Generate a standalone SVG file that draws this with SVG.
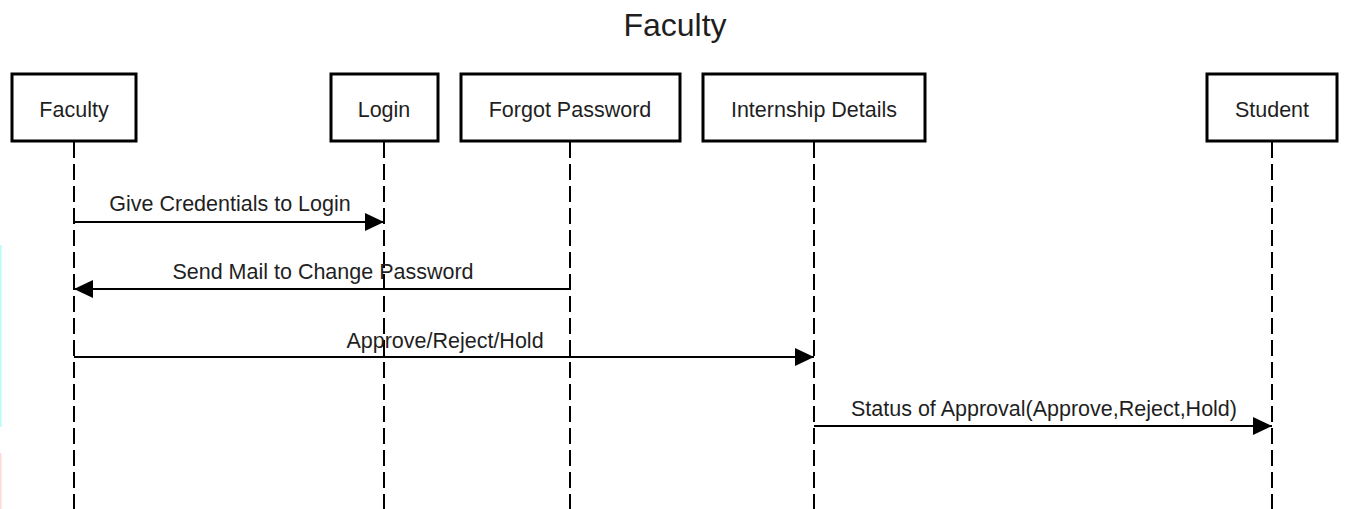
<svg xmlns="http://www.w3.org/2000/svg" width="1349" height="509" viewBox="0 0 1349 509">
<defs>
<style>
text{font-family:"Liberation Sans",Arial,sans-serif;fill:#1f1f1f}
.box{fill:#fff;stroke:#000;stroke-width:3}
.lbl{font-size:21.5px;text-anchor:middle}
.life{stroke:#000;stroke-width:2;stroke-dasharray:16 6;fill:none}
.msg{stroke:#000;stroke-width:2;fill:none}
</style>
<marker id="ah" markerUnits="userSpaceOnUse" viewBox="0 0 19 18" refX="19" refY="9" markerWidth="19" markerHeight="18" orient="auto">
<path d="M0,0 L19,9 L0,18 Z" fill="#000"/>
</marker>
</defs>
<rect width="1349" height="509" fill="#fff"/>
<rect x="0" y="245" width="1.5" height="182" fill="#b8fbfb"/>
<rect x="0" y="453" width="1.5" height="56" fill="#ffd9d9"/>
<text x="675" y="36" font-size="32" text-anchor="middle">Faculty</text>
<g id="lifelines">
<line class="life" x1="74" y1="142" x2="74" y2="509"/>
<line class="life" x1="384" y1="142" x2="384" y2="509"/>
<line class="life" x1="570" y1="142" x2="570" y2="509"/>
<line class="life" x1="814" y1="142" x2="814" y2="509"/>
<line class="life" x1="1272" y1="142" x2="1272" y2="509"/>
</g>
<g id="n-faculty"><rect class="box" x="12" y="74" width="124" height="67"/><text class="lbl" x="74" y="117">Faculty</text></g>
<g id="n-login"><rect class="box" x="331" y="74" width="107" height="67"/><text class="lbl" x="384" y="117">Login</text></g>
<g id="n-forgot"><rect class="box" x="461" y="74" width="219" height="67"/><text class="lbl" x="570" y="117">Forgot Password</text></g>
<g id="n-internship"><rect class="box" x="703" y="74" width="222" height="67"/><text class="lbl" x="814" y="117">Internship Details</text></g>
<g id="n-student"><rect class="box" x="1207" y="74" width="130" height="67"/><text class="lbl" x="1272" y="117">Student</text></g>
<g id="connectors">
<line class="msg" x1="74" y1="222" x2="384" y2="222" marker-end="url(#ah)"/>
<text class="lbl" x="230" y="211">Give Credentials to Login</text>
<line class="msg" x1="570" y1="289" x2="74" y2="289" marker-end="url(#ah)"/>
<text class="lbl" x="323" y="279">Send Mail to Change Password</text>
<line class="msg" x1="74" y1="357" x2="814" y2="357" marker-end="url(#ah)"/>
<text class="lbl" x="445" y="348">Approve/Reject/Hold</text>
<line class="msg" x1="814" y1="426" x2="1272" y2="426" marker-end="url(#ah)"/>
<text class="lbl" x="1044" y="416">Status of Approval(Approve,Reject,Hold)</text>
</g>
</svg>
